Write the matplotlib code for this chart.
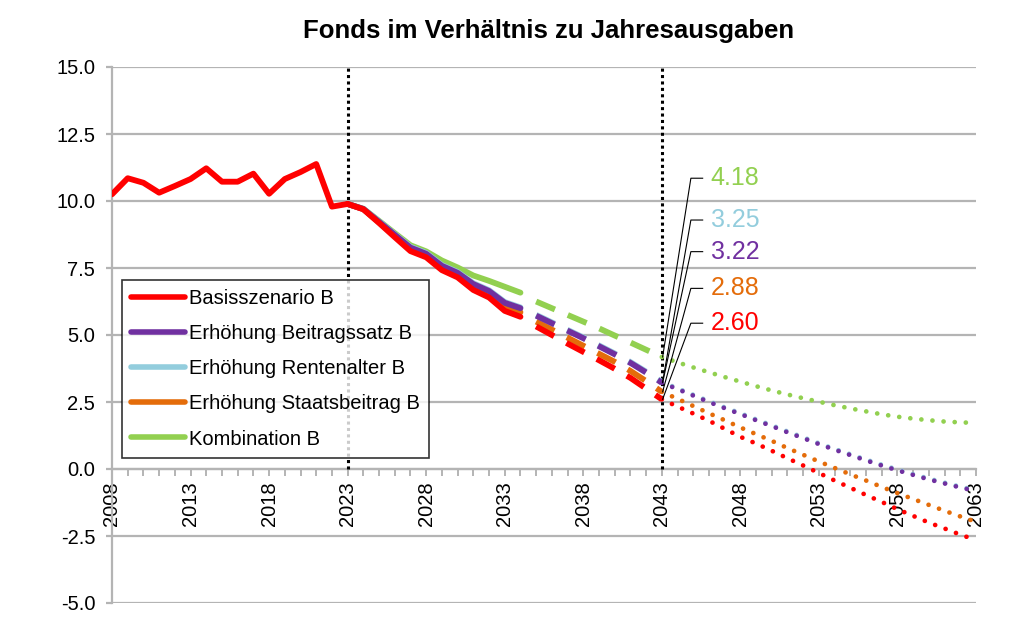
import matplotlib
matplotlib.use('Agg')
import matplotlib.pyplot as plt
import numpy as np
from matplotlib.lines import Line2D

plt.rcParams['font.family'] = ['Liberation Sans', 'DejaVu Sans']

# Historische Werte (Basisszenario)
jahre_hist = list(range(2008, 2024))
werte_hist = [10.25, 10.85, 10.68, 10.31, 10.56, 10.82, 11.22, 10.72, 10.72, 11.02,
              10.27, 10.82, 11.08, 11.38, 9.79, 9.89]

# Prognose, durchgezogen 2023-2034
jahre_solid = list(range(2023, 2035))
basis_solid = [9.89, 9.69, 9.18, 8.65, 8.13, 7.90, 7.42, 7.15, 6.68, 6.40, 5.90, 5.68]
staat_solid = [9.89, 9.70, 9.20, 8.70, 8.20, 7.97, 7.50, 7.24, 6.80, 6.53, 6.06, 5.85]
beitrag_solid = [9.89, 9.70, 9.22, 8.74, 8.26, 8.03, 7.58, 7.32, 6.90, 6.64, 6.20, 6.00]
rente_solid = [9.89, 9.71, 9.24, 8.76, 8.29, 8.06, 7.61, 7.35, 6.93, 6.67, 6.23, 6.03]
komb_solid = [9.89, 9.71, 9.26, 8.80, 8.35, 8.12, 7.78, 7.52, 7.22, 7.02, 6.80, 6.58]

# Prognose, gestrichelt 2035-2043
jahre_dash = list(range(2035, 2044))
basis_dash = [5.32, 5.00, 4.68, 4.37, 4.06, 3.74, 3.40, 3.00, 2.60]
staat_dash = [5.50, 5.20, 4.90, 4.60, 4.30, 4.00, 3.66, 3.28, 2.88]
beitrag_dash = [5.72, 5.44, 5.16, 4.88, 4.58, 4.28, 3.96, 3.60, 3.22]
rente_dash = [5.75, 5.47, 5.19, 4.91, 4.61, 4.31, 3.99, 3.63, 3.25]
komb_dash = [6.25, 6.00, 5.75, 5.50, 5.25, 4.98, 4.72, 4.45, 4.18]

# Prognose, gepunktet 2043-2063
jahre_dot = list(range(2043, 2064))
basis_dot = [2.60, 2.33, 2.07, 1.80, 1.50, 1.20, 0.95, 0.68, 0.40, 0.13, -0.15,
             -0.43, -0.70, -0.97, -1.23, -1.50, -1.75, -2.00, -2.22, -2.45, -2.65]
staat_dot = [2.88, 2.62, 2.35, 2.08, 1.82, 1.55, 1.30, 1.05, 0.78, 0.53, 0.28,
             0.04, -0.20, -0.43, -0.67, -0.90, -1.12, -1.34, -1.56, -1.77, -1.97]
beitrag_dot = [3.22, 2.98, 2.74, 2.50, 2.27, 2.05, 1.82, 1.60, 1.37, 1.15, 0.93,
               0.72, 0.52, 0.32, 0.13, -0.05, -0.22, -0.39, -0.54, -0.69, -0.82]
rente_dot = [3.25, 3.01, 2.77, 2.53, 2.30, 2.08, 1.85, 1.63, 1.40, 1.18, 0.96,
             0.75, 0.55, 0.35, 0.16, -0.02, -0.19, -0.36, -0.51, -0.66, -0.79]
komb_dot = [4.18, 3.98, 3.79, 3.61, 3.43, 3.26, 3.09, 2.93, 2.78, 2.64, 2.51,
            2.38, 2.26, 2.15, 2.04, 1.95, 1.88, 1.82, 1.77, 1.74, 1.72]

namen = ['Basisszenario B', 'Erhöhung Beitragssatz B', 'Erhöhung Rentenalter B',
         'Erhöhung Staatsbeitrag B', 'Kombination B']
farben = {'basis': '#FF0000', 'beitrag': '#7030A0', 'rente': '#93CDDD',
          'staat': '#E46C0A', 'komb': '#92D050'}
# Position der Beschriftungen (y in Datenkoordinaten)
label_y = {'komb': 10.85, 'rente': 9.29, 'beitrag': 8.11, 'staat': 6.74, 'basis': 5.44}

reihen = {
    'komb': (komb_solid, komb_dash, komb_dot),
    'rente': (rente_solid, rente_dash, rente_dot),
    'staat': (staat_solid, staat_dash, staat_dot),
    'beitrag': (beitrag_solid, beitrag_dash, beitrag_dot),
    'basis': (basis_solid, basis_dash, basis_dot),
}

fig = plt.figure(figsize=(10.25, 6.3), dpi=100)
ax = fig.add_axes([112 / 1025, 27 / 630, 864 / 1025, 536 / 630])

lw = 4.2
for key in ['komb', 'rente', 'staat', 'beitrag', 'basis']:
    s, d, p = reihen[key]
    c = farben[key]
    ax.plot(jahre_solid, s, color=c, lw=lw, solid_capstyle='round',
            solid_joinstyle='round', zorder=4)
    ax.plot(jahre_dash, d, color=c, lw=lw, dashes=(3.5, 2.4),
            dash_capstyle='butt', zorder=4)
    ax.plot(jahre_dot, p, color=c, lw=3.4, dashes=(0.01, 2.35),
            dash_capstyle='round', zorder=4)

ax.plot(jahre_hist, werte_hist, color=farben['basis'], lw=lw,
        solid_capstyle='round', solid_joinstyle='round', zorder=5)

# vertikale Markierungen
for x in [2023, 2043]:
    ax.plot([x, x], [0, 15], color='black', lw=2.2, dashes=(1, 1.1), zorder=3)

# Beschriftungen mit Führungslinien
for key in ['komb', 'rente', 'beitrag', 'staat', 'basis']:
    wert = reihen[key][1][-1]
    ly = label_y[key]
    ax.plot([2043.05, 2044.85, 2045.6], [wert, ly, ly], color='black', lw=0.8, zorder=6)
    ax.text(2046.1, ly, f'{wert:.2f}', color=farben[key], fontsize=18,
            va='center', ha='left', zorder=7)

# Achsen
ax.set_xlim(2008, 2063)
ax.set_ylim(-5, 15)
yt = np.arange(-5, 15.1, 2.5)
ax.set_yticks(yt)
ax.set_yticklabels([f'{v:.1f}' for v in yt])
ax.set_xticks(range(2008, 2064, 5))
ax.set_xticks(range(2008, 2064), minor=True)
ax.grid(axis='y', color='#B4B4B4', lw=1.6, zorder=1)

for side in ['top', 'right']:
    ax.spines[side].set_visible(False)
ax.spines['left'].set_color('#B4B4B4')
ax.spines['left'].set_linewidth(1.6)
ax.spines['bottom'].set_position(('data', 0))
ax.spines['bottom'].set_color('#B4B4B4')
ax.spines['bottom'].set_linewidth(1.6)

ax.tick_params(axis='y', length=4, width=1.6, color='#B4B4B4', labelsize=14.5, pad=8)
ax.tick_params(axis='x', which='both', length=5, width=1.4, color='#B4B4B4',
               direction='out', labelsize=14.5, labelrotation=90, pad=4)

# Legende
handles = [Line2D([], [], color=farben[k], lw=4, solid_capstyle='round')
           for k in ['basis', 'beitrag', 'rente', 'staat', 'komb']]
leg = ax.legend(handles, namen, loc='upper left', bbox_to_anchor=(0.0112, 0.6026),
                borderaxespad=0, fontsize=14.5, frameon=True, fancybox=False,
                handlelength=2.7, handletextpad=0.2, labelspacing=0.8,
                borderpad=0.45)
leg.get_frame().set_edgecolor('black')
leg.get_frame().set_linewidth(1.2)
leg.set_zorder(8)

fig.text(549 / 1025, 1 - 31 / 630, 'Fonds im Verhältnis zu Jahresausgaben',
         ha='center', va='center', fontsize=18.5, fontweight='bold')

fig.savefig('out.png', dpi=100)
